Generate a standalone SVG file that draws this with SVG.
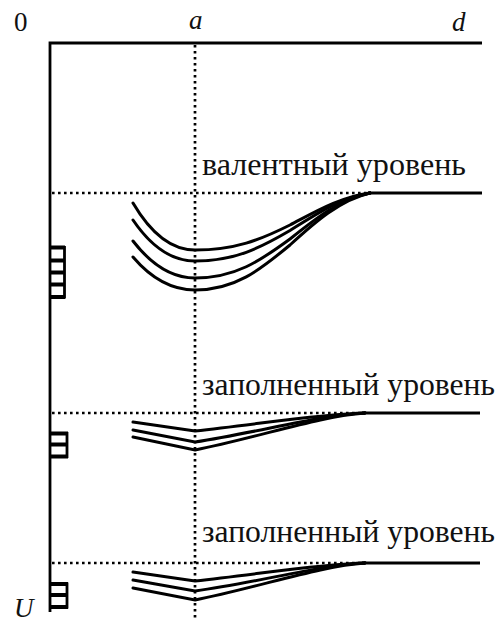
<svg xmlns="http://www.w3.org/2000/svg" width="502" height="622" viewBox="0 0 502 622">
<style>
.ax{stroke:#000;stroke-width:2.8;fill:none}
.dot{stroke:#000;stroke-width:2.7;fill:none;stroke-dasharray:2.6 3.4}
.cv{stroke:#000;stroke-width:3;fill:none;stroke-linecap:round}
.lvl{stroke:#000;stroke-width:3;fill:none}
.bar{stroke:#000;stroke-width:3.8;fill:none}
.lbl{font-family:"Liberation Serif","DejaVu Serif",serif;font-size:31px;fill:#111}
.ital{font-family:"Liberation Serif","DejaVu Serif",serif;font-style:italic;font-size:27px;fill:#111}
.num{font-family:"Liberation Serif","DejaVu Serif",serif;font-size:27px;fill:#111}
</style>
<rect width="502" height="622" fill="#fff"/>
<g id="axes">
<path class="ax" d="M50,612 V43 H482"/>
<text class="num" x="14" y="31">0</text>
<text class="ital" x="189" y="29">a</text>
<text class="ital" x="452" y="31">d</text>
<text class="ital" x="14" y="617">U</text>
</g>
<g id="guides">
<path class="dot" d="M195,45 V620"/>
<path class="dot" d="M52,193 H368"/>
<path class="dot" d="M52,413 H365"/>
<path class="dot" d="M52,563 H365"/>
</g>
<g id="valence">
<text class="lbl" x="202" y="175" textLength="264" lengthAdjust="spacingAndGlyphs">валентный уровень</text>
<path class="lvl" d="M368,193 H482"/>
<path class="cv" d="M133,203 C150,232 170,250 195,250 C235,250 260,240 290,225 C315,212 340,197 370,193"/>
<path class="cv" d="M133,220 C150,245 170,261 195,261 C235,261 260,248 290,230.5 C315,214.8 340,197.8 370,193"/>
<path class="cv" d="M133,241 C150,263 170,278 195,278 C235,278 260,261 290,239 C315,219 340,199 370,193"/>
<path class="cv" d="M133,257 C150,277 170,290 195,290 C235,290 260,270 290,245 C315,222 340,200 370,193"/>
<g id="ladder-valence">
<path class="bar" d="M50,247.5 H65 M50,260.5 H65 M50,272.5 H65 M50,284.5 H65 M50,297 H65"/>
<path class="ax" d="M64.5,246 V298.5"/>
</g>
</g>
<g id="filled1">
<text class="lbl" x="202" y="395" textLength="293" lengthAdjust="spacingAndGlyphs">заполненный уровень</text>
<path class="lvl" d="M362,413 H480"/>
<path class="cv" d="M133,422 L195,431 C260,424 320,414 365,413"/>
<path class="cv" d="M133,430 L195,442 C260,432 320,415 365,413"/>
<path class="cv" d="M133,437 L195,450 C260,437 320,416 365,413"/>
<g id="ladder-filled1">
<path class="bar" d="M50,433.5 H68 M50,444.5 H68 M50,456.5 H68"/>
<path class="ax" d="M67,432 V458"/>
</g>
</g>
<g id="filled2">
<text class="lbl" x="202" y="542" textLength="293" lengthAdjust="spacingAndGlyphs">заполненный уровень</text>
<path class="lvl" d="M362,563 H480"/>
<path class="cv" d="M133,572 L195,581 C260,574 320,564 365,563"/>
<path class="cv" d="M133,580 L195,591 C260,582 320,565 365,563"/>
<path class="cv" d="M133,588 L195,600 C260,587 320,566 365,563"/>
<g id="ladder-filled2">
<path class="bar" d="M50,584 H68 M50,595 H68 M50,607 H68"/>
<path class="ax" d="M67,582.5 V608.5"/>
</g>
</g>
</svg>
